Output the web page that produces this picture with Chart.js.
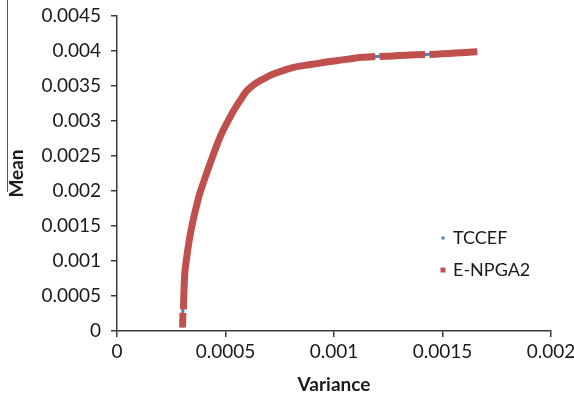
<!DOCTYPE html>
<html>
<head>
<meta charset="utf-8">
<script src="https://cdn.jsdelivr.net/npm/chart.js@4.4.1/dist/chart.umd.min.js"></script>
<style>
  body { margin: 0; background: #fff; }
  #wrap { position: relative; width: 574px; height: 401px; }
  #edge { position: absolute; left: 7px; top: 0; width: 1px; height: 192px; background: #555; }
</style>
</head>
<body>
<div id="wrap">
  <canvas id="chart" width="574" height="401"></canvas>
  <div id="edge"></div>
</div>
<script>
'use strict';

var seriesNames = ['TCCEF', 'E-NPGA2'];

// TCCEF frontier (mostly hidden under the red series)
var tccefVariance = [0.000301, 0.000303, 0.000307, 0.000312, 0.000325, 0.000348, 0.000378, 0.000414,
  0.000436, 0.000486, 0.000565, 0.00064, 0.00076, 0.00088, 0.00103, 0.00119, 0.00133, 0.0015, 0.00166];
var tccefMean = [0.00005, 0.00027, 0.0006, 0.00085, 0.00118, 0.00157, 0.00195, 0.00228,
  0.00247, 0.00286, 0.00329, 0.00355, 0.00372, 0.0038, 0.00387, 0.00392, 0.00394, 0.00396, 0.00399];

// E-NPGA2 frontier, null = small gap in the marks
var npgaVariance = [0.000302, 0.000303, 0.000304, 0.000305, 0.000306, 0.000309, 0.000313, 0.000319,
  0.000327, 0.000337, 0.00035, 0.000365, 0.00038, 0.000396, 0.000416, 0.000438, 0.000462, 0.000488,
  0.000515, 0.00054, 0.000567, 0.00059, 0.000615, 0.000645, 0.00068, 0.00072, 0.000765, 0.00082,
  0.000876, 0.00092, 0.00098, 0.00103, 0.00108, 0.00113, 0.00119, 0.0012, 0.00121, 0.00127,
  0.00133, 0.00142, 0.00143, 0.00144, 0.0015, 0.00156, 0.00161, 0.00166];
var npgaMean = [0.00005, 0.00015, 0.00026, null, 0.00031, 0.0006, 0.00085, 0.001,
  0.00118, 0.00137, 0.00157, 0.00177, 0.00195, 0.0021, 0.00228, 0.00247, 0.00267, 0.00286,
  0.00302, 0.00316, 0.00329, 0.0034, 0.00348, 0.00355, 0.00361, 0.00367, 0.00372, 0.00377,
  0.0038, 0.00382, 0.00385, 0.00387, 0.00389, 0.00391, 0.00392, null, 0.00392, 0.00393,
  0.00394, 0.00395, null, 0.00395, 0.00396, 0.00397, 0.00398, 0.00399];

var xTicks = [0, 0.0005, 0.001, 0.0015, 0.002];
var yTicks = [0, 0.0005, 0.001, 0.0015, 0.002, 0.0025, 0.003, 0.0035, 0.004, 0.0045];

var blue = '#4F81BD';
var red = '#C0504D';
var ink = '#1a1a1a';
var axisColor = '#3a3a3a';
var font = 'Lato, "Open Sans", sans-serif';

function toPoints(xs, ys) {
  var pts = [];
  for (var i = 0; i < xs.length; i++) {
    pts.push({ x: xs[i], y: ys[i] });
  }
  return pts;
}

function fmt(v) {
  return String(+v.toFixed(5));
}

// legend drawn inside the plot, like the original
var insideLegend = {
  id: 'insideLegend',
  afterDraw: function(chart) {
    var ctx = chart.ctx;
    ctx.save();
    ctx.font = '18px ' + font;
    ctx.fillStyle = ink;
    ctx.textBaseline = 'middle';
    ctx.fillText(seriesNames[0], 453, 238);
    ctx.fillText(seriesNames[1], 453, 270);

    ctx.fillStyle = blue;
    ctx.beginPath();
    ctx.arc(443, 238, 1.8, 0, Math.PI * 2);
    ctx.fill();

    ctx.fillStyle = red;
    ctx.fillRect(440.5, 267.5, 5, 5);
    ctx.restore();
  }
};

var ctx = document.getElementById('chart').getContext('2d');

new Chart(ctx, {
  type: 'scatter',
  data: {
    datasets: [
      {
        label: seriesNames[1],
        data: toPoints(npgaVariance, npgaMean),
        showLine: true,
        spanGaps: false,
        tension: 0.2,
        borderColor: red,
        backgroundColor: red,
        borderWidth: 7,
        borderCapStyle: 'butt',
        borderJoinStyle: 'round',
        pointRadius: 0,
        order: 0,
      },
      {
        label: seriesNames[0],
        data: toPoints(tccefVariance, tccefMean),
        showLine: true,
        tension: 0.2,
        borderColor: blue,
        backgroundColor: blue,
        borderWidth: 3,
        borderJoinStyle: 'round',
        pointRadius: 0,
        order: 1,
      },
    ],
  },
  options: {
    responsive: false,
    animation: false,
    layout: { padding: { left: 0, right: 23, top: 16, bottom: 0 } },
    plugins: {
      legend: { display: false },
      tooltip: { enabled: false },
    },
    scales: {
      x: {
        type: 'linear',
        min: xTicks[0],
        max: xTicks[xTicks.length - 1],
        afterBuildTicks: function(scale) {
          scale.ticks = xTicks.map(function(v) { return { value: v }; });
        },
        afterFit: function(scale) {
          scale.height = 70;
          scale.paddingLeft = 0;
          scale.paddingRight = 0;
        },
        grid: { display: true, drawOnChartArea: false, drawTicks: true, tickLength: 6, color: axisColor, lineWidth: 1.5 },
        border: { display: true, color: axisColor, width: 1.5 },
        ticks: { color: ink, padding: 3, font: { family: font, size: 19 }, callback: fmt },
        title: { display: true, text: 'Variance', color: ink, padding: { top: 0, bottom: 5 }, font: { family: font, size: 19, weight: 'bold' } },
      },
      y: {
        type: 'linear',
        min: yTicks[0],
        max: yTicks[yTicks.length - 1],
        afterBuildTicks: function(scale) {
          scale.ticks = yTicks.map(function(v) { return { value: v }; });
        },
        afterFit: function(scale) {
          scale.width = 117;
          scale.paddingTop = 0;
          scale.paddingBottom = 0;
        },
        grid: { display: true, drawOnChartArea: false, drawTicks: true, tickLength: 6, color: axisColor, lineWidth: 1.5 },
        border: { display: true, color: axisColor, width: 1.5 },
        ticks: { color: ink, padding: 10, font: { family: font, size: 19 }, callback: fmt },
        title: { display: true, text: 'Mean', color: ink, padding: { top: 5, bottom: 0 }, font: { family: font, size: 19, weight: 'bold' } },
      },
    },
  },
  plugins: [insideLegend],
});
</script>
</body>
</html>
